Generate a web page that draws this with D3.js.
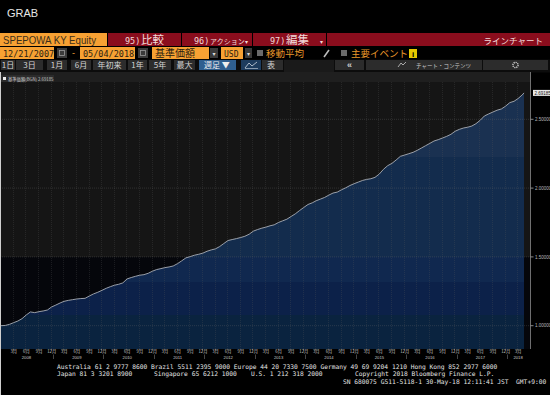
<!DOCTYPE html>
<html>
<head>
<meta charset="utf-8">
<script src="https://cdn.jsdelivr.net/npm/d3@7"></script>
<style>
  html, body { margin: 0; padding: 0; background: #000; }
  svg { display: block; }
  text { font-family: "Liberation Sans", "DejaVu Sans", sans-serif; }
  .jp { font-family: "Noto Sans CJK JP", sans-serif; }
  .mono { font-family: "DejaVu Sans Mono", monospace; }
</style>
</head>
<body>
<div id="chart"></div>
<script>
// NAV (基準価額), one value per month on the 21st
var startDate = "2007-12-21";
var endDate = "2018-05-04";
var startValue = 1.000;
var nav2008 = [1.002, 1.010, 1.022, 1.034, 1.051, 1.078, 1.100, 1.095, 1.102, 1.107, 1.114, 1.136];
var nav2009 = [1.150, 1.165, 1.177, 1.184, 1.189, 1.194, 1.197, 1.199, 1.216, 1.231, 1.243, 1.257];
var nav2010 = [1.272, 1.284, 1.294, 1.301, 1.311, 1.340, 1.350, 1.359, 1.367, 1.371, 1.381, 1.396];
var nav2011 = [1.408, 1.415, 1.422, 1.427, 1.434, 1.451, 1.471, 1.493, 1.502, 1.512, 1.519, 1.527];
var nav2012 = [1.541, 1.551, 1.558, 1.575, 1.597, 1.619, 1.626, 1.633, 1.641, 1.650, 1.665, 1.687];
var nav2013 = [1.699, 1.709, 1.716, 1.726, 1.733, 1.750, 1.762, 1.774, 1.794, 1.813, 1.837, 1.859];
var nav2014 = [1.881, 1.893, 1.908, 1.920, 1.932, 1.949, 1.964, 1.971, 1.988, 2.002, 2.019, 2.032];
var nav2015 = [2.044, 2.056, 2.063, 2.068, 2.078, 2.102, 2.136, 2.163, 2.180, 2.204, 2.231, 2.240];
var nav2016 = [2.250, 2.260, 2.274, 2.291, 2.308, 2.325, 2.342, 2.352, 2.364, 2.376, 2.391, 2.413];
var nav2017 = [2.427, 2.437, 2.442, 2.451, 2.468, 2.493, 2.524, 2.539, 2.553, 2.566, 2.575, 2.595];
var nav2018 = [2.621, 2.631, 2.650, 2.677];
var lastValue = 2.69185;

var yTicks = [1.0, 1.5, 2.0, 2.5];
var monthNames = ["3月", "6月", "9月", "12月"];
var years = [2008, 2009, 2010, 2011, 2012, 2013, 2014, 2015, 2016, 2017, 2018];

var timeButtons = ["1日", "3日", "1月", "6月", "年初来", "1年", "5年", "最大"];

var footer1 = "Australia 61 2 9777 8600 Brazil 5511 2395 9000 Europe 44 20 7330 7500 Germany 49 69 9204 1210 Hong Kong 852 2977 6000";
var footer2 = ["Japan 81 3 3201 8900", "Singapore 65 6212 1000", "U.S. 1 212 318 2000", "Copyright 2018 Bloomberg Finance L.P."];
var footer3 = "SN 680075 G511-5118-1 30-May-18 12:11:41 JST  GMT+9:00";

var width = 550, height = 395;
var parse = d3.timeParse("%Y-%m-%d");

var data = [{ date: parse(startDate), v: startValue }];
var byYear = [nav2008, nav2009, nav2010, nav2011, nav2012, nav2013, nav2014, nav2015, nav2016, nav2017, nav2018];
byYear.forEach(function (arr, i) {
  arr.forEach(function (v, m) {
    data.push({ date: new Date(years[i], m, 21), v: v });
  });
});
data.push({ date: parse(endDate), v: lastValue });

var svg = d3.select("#chart").append("svg").attr("width", width).attr("height", height);
svg.append("rect").attr("width", width).attr("height", height).attr("fill", "#000");

// ---------- header ----------
svg.append("text").attr("x", 7).attr("y", 17).attr("font-size", 11).attr("fill", "#e6e6e6").text("GRAB");

var orange = "#f7a133", red = "#8a0d1d";
// row 1
svg.append("rect").attr("x", 0).attr("y", 33).attr("width", 107).attr("height", 13).attr("fill", orange);
svg.append("text").attr("x", 3).attr("y", 43.5).attr("font-size", 10.5).attr("textLength", 93).attr("lengthAdjust", "spacingAndGlyphs")
  .attr("fill", "#3a2e1a").text("SPEPOWA KY Equity");
[[108, 73], [182, 70], [253, 73], [327, 223]].forEach(function (b) {
  svg.append("rect").attr("x", b[0]).attr("y", 33).attr("width", b[1]).attr("height", 13).attr("fill", red);
});
function hdr(x, t, size, cls) {
  svg.append("text").attr("class", cls || "jp").attr("x", x).attr("y", 43.8).attr("font-size", size)
    .attr("fill", "#f3dada").text(t);
}
hdr(125, "95)", 8.5, "mono"); hdr(141, "比較", 11.5);
hdr(194, "96)", 8.5, "mono"); hdr(210, "アクション", 7); hdr(245, "▾", 6);
hdr(270, "97)", 8.5, "mono"); hdr(286, "編集", 11.5); hdr(320, "▾", 6);
svg.append("text").attr("class", "jp").attr("x", 543).attr("y", 43.8).attr("text-anchor", "end")
  .attr("font-size", 8.5).attr("fill", "#f3dada").text("ラインチャート");

// row 2
function obox(x, w, t, cls, size) {
  svg.append("rect").attr("x", x).attr("y", 47).attr("width", w).attr("height", 12).attr("fill", orange);
  svg.append("text").attr("class", cls).attr("x", x + 3).attr("y", 56.5).attr("font-size", size).attr("fill", "#2a2010").text(t);
}
function gbox(x, w, t) {
  svg.append("rect").attr("x", x).attr("y", 48).attr("width", w).attr("height", 10).attr("fill", "#3a3a3a");
  if (t) svg.append("text").attr("x", x + w / 2).attr("y", 55.5).attr("text-anchor", "middle").attr("font-size", 6).attr("fill", "#ddd").text(t);
}
obox(0, 54, "12/21/2007", "mono", 8.5);
gbox(57, 10); svg.append("rect").attr("x", 59.5).attr("y", 50.5).attr("width", 5).attr("height", 5).attr("fill", "none").attr("stroke", "#999").attr("stroke-width", 0.8);
svg.append("text").attr("x", 72).attr("y", 56).attr("font-size", 9).attr("fill", orange).text("-");
obox(80, 55, "05/04/2018", "mono", 8.5);
gbox(138, 10); svg.append("rect").attr("x", 140.5).attr("y", 50.5).attr("width", 5).attr("height", 5).attr("fill", "none").attr("stroke", "#999").attr("stroke-width", 0.8);
obox(152, 57, "基準価額", "jp", 10);
gbox(210, 8, "▾");
obox(221, 22, "USD", "mono", 8);
gbox(245, 7, "▾");
svg.append("rect").attr("x", 257).attr("y", 50).attr("width", 6).attr("height", 6).attr("fill", "#6a6a6a");
svg.append("text").attr("class", "jp").attr("x", 266).attr("y", 56.5).attr("font-size", 9.5).attr("fill", "#e8962a").text("移動平均");
svg.append("line").attr("x1", 324).attr("y1", 57).attr("x2", 329).attr("y2", 50).attr("stroke", "#bbb").attr("stroke-width", 1.6);
svg.append("rect").attr("x", 341).attr("y", 50).attr("width", 6).attr("height", 6).attr("fill", "#6a6a6a");
svg.append("text").attr("class", "jp").attr("x", 351).attr("y", 56.5).attr("font-size", 9.5).attr("fill", "#e8962a").text("主要イベント");
svg.append("rect").attr("x", 409).attr("y", 49).attr("width", 8).attr("height", 9).attr("fill", "#e6c800");
svg.append("text").attr("x", 413).attr("y", 56.5).attr("text-anchor", "middle").attr("font-size", 8).attr("font-weight", "bold").attr("fill", "#000").text("i");

// row 3
svg.append("rect").attr("x", 0).attr("y", 59.5).attr("width", width).attr("height", 13).attr("fill", "#0c0c0c");
var btnX = [[1, 14], [16, 27], [47, 20], [71, 20], [93, 33], [128, 19], [149, 22], [174, 21]];
timeButtons.forEach(function (t, i) {
  svg.append("rect").attr("x", btnX[i][0]).attr("y", 60).attr("width", btnX[i][1]).attr("height", 10).attr("fill", "#2c2c2c");
  svg.append("text").attr("class", "jp").attr("x", btnX[i][0] + btnX[i][1] / 2).attr("y", 68.3).attr("text-anchor", "middle")
    .attr("font-size", 8).attr("fill", "#d4d4d4").text(t);
});
svg.append("rect").attr("x", 199).attr("y", 60).attr("width", 37).attr("height", 10).attr("fill", "#2f5f8f");
svg.append("text").attr("class", "jp").attr("x", 204).attr("y", 68.3).attr("font-size", 8).attr("fill", "#eee").text("週足 ▼");
svg.append("rect").attr("x", 241).attr("y", 60).attr("width", 20).attr("height", 10).attr("fill", "#1d3c5e");
svg.append("path").attr("d", "M245,68 L249,63 L252,66 L257,62").attr("fill", "none").attr("stroke", "#cfd8e2").attr("stroke-width", 0.8);
svg.append("line").attr("x1", 245).attr("y1", 68.5).attr("x2", 258).attr("y2", 68.5).attr("stroke", "#cfd8e2").attr("stroke-width", 0.6);
svg.append("rect").attr("x", 262).attr("y", 60).attr("width", 21).attr("height", 10).attr("fill", "#2c2c2c");
svg.append("text").attr("class", "jp").attr("x", 267).attr("y", 68.3).attr("font-size", 8).attr("fill", "#d4d4d4").text("表");
svg.append("rect").attr("x", 284).attr("y", 60).attr("width", 50).attr("height", 12).attr("fill", "#1a1a1a");
svg.append("rect").attr("x", 335).attr("y", 60).attr("width", 29).attr("height", 10).attr("fill", "#2c2c2c");
svg.append("text").attr("x", 349.5).attr("y", 68.3).attr("text-anchor", "middle").attr("font-size", 9).attr("font-weight", "bold").attr("fill", "#ccc").text("«");
svg.append("rect").attr("x", 366).attr("y", 60).attr("width", 116).attr("height", 10).attr("fill", "#2c2c2c");
svg.append("path").attr("d", "M398,67 L401,63 L403,65 L406,62").attr("fill", "none").attr("stroke", "#ccc").attr("stroke-width", 0.8);
svg.append("text").attr("class", "jp").attr("x", 416).attr("y", 67.8).attr("font-size", 5.5).attr("fill", "#c8c8c8").text("チャート・コンテンツ");
svg.append("rect").attr("x", 483).attr("y", 60).attr("width", 65).attr("height", 10).attr("fill", "#2c2c2c");
svg.append("circle").attr("cx", 515.5).attr("cy", 65).attr("r", 2.6).attr("fill", "none").attr("stroke", "#ccc").attr("stroke-width", 1.4).attr("stroke-dasharray", "1.2,0.8");

// ---------- chart ----------
var plotL = 0, plotR = 530.5, plotT = 82, plotB = 349;
var x = d3.scaleTime().domain([parse(startDate), parse(endDate)]).range([1, 524]);
var y = d3.scaleLinear().domain([1, 2.5]).range([325.7, 119.3]);

svg.append("rect").attr("x", 0).attr("y", 72).attr("width", plotR).attr("height", plotT - 72).attr("fill", "#1f1f1f");
svg.append("rect").attr("x", plotL).attr("y", plotT).attr("width", plotR - plotL).attr("height", 257 - plotT).attr("fill", "#151515");
svg.append("rect").attr("x", plotL).attr("y", 257).attr("width", plotR - plotL).attr("height", plotB - 257).attr("fill", "#05060b");

var defs = svg.append("defs");
var grad = defs.append("linearGradient").attr("id", "navFill").attr("gradientUnits", "userSpaceOnUse")
  .attr("x1", 0).attr("x2", 0).attr("y1", plotT).attr("y2", plotB);
var bands = [[0, "#1a3151"], [157, "#132c4d"], [257, "#10284f"], [282, "#0c2149"], [315, "#0a233f"]];
bands.forEach(function (b, i) {
  var y0 = Math.max(b[0], plotT);
  var y1 = i < bands.length - 1 ? bands[i + 1][0] : plotB;
  grad.append("stop").attr("offset", (y0 - plotT) / (plotB - plotT)).attr("stop-color", b[1]);
  grad.append("stop").attr("offset", (y1 - plotT) / (plotB - plotT)).attr("stop-color", b[1]);
});

var area = d3.area().x(function (d) { return x(d.date); }).y0(plotB).y1(function (d) { return y(d.v); });
svg.append("path").datum(data).attr("d", area).attr("fill", "url(#navFill)");

// grid
var qTicks = d3.timeMonths(new Date(2008, 2, 1), parse(endDate), 3).map(function (d) { return new Date(d.getFullYear(), d.getMonth(), 15); });
svg.append("g").selectAll("line").data(qTicks).enter().append("line")
  .attr("x1", function (d) { return Math.round(x(d)) + 0.5; }).attr("x2", function (d) { return Math.round(x(d)) + 0.5; })
  .attr("y1", plotT).attr("y2", plotB)
  .attr("stroke", "#5a5a5a").attr("stroke-opacity", 0.45).attr("stroke-width", 0.6).attr("stroke-dasharray", "1,1");
svg.append("g").selectAll("line").data(yTicks).enter().append("line")
  .attr("x1", plotL).attr("x2", plotR)
  .attr("y1", function (d) { return y(d); }).attr("y2", function (d) { return y(d); })
  .attr("stroke", "#6a6a6a").attr("stroke-opacity", 0.55).attr("stroke-width", 0.6).attr("stroke-dasharray", "1,1");

var line = d3.line().x(function (d) { return x(d.date); }).y(function (d) { return y(d.v); });
svg.append("path").datum(data).attr("d", line).attr("fill", "none").attr("stroke", "#a9aeb6").attr("stroke-width", 0.9);

// legend
svg.append("rect").attr("x", 1).attr("y", 75).attr("width", 53).attr("height", 7).attr("fill", "#2b2b2b");
svg.append("rect").attr("x", 3).attr("y", 77).attr("width", 3).attr("height", 3).attr("fill", "#eee");
svg.append("text").attr("class", "jp").attr("x", 8).attr("y", 80.6).attr("font-size", 4.3).attr("fill", "#ccc")
  .text("基準価額(BGN) " + d3.format(".5f")(lastValue));

// right axis
svg.append("line").attr("x1", plotR).attr("x2", plotR).attr("y1", 72).attr("y2", plotB).attr("stroke", "#8a8a8a").attr("stroke-width", 0.8);
var yAxis = svg.append("g");
yTicks.forEach(function (t) {
  yAxis.append("line").attr("x1", plotR).attr("x2", plotR + 3).attr("y1", y(t)).attr("y2", y(t)).attr("stroke", "#aaa").attr("stroke-width", 0.8);
  yAxis.append("text").attr("x", plotR + 4.5).attr("y", y(t) + 1.6).attr("font-size", 4.5).attr("fill", "#b8b8b8").text(d3.format(".5f")(t));
});
svg.append("rect").attr("x", plotR + 2.5).attr("y", y(lastValue) - 3).attr("width", 17).attr("height", 6).attr("fill", "#e8e8e8");
svg.append("text").attr("x", plotR + 4).attr("y", y(lastValue) + 1.6).attr("font-size", 4.5).attr("fill", "#111").text(d3.format(".5f")(lastValue));

// x axis labels
var xAxis = svg.append("g");
qTicks.forEach(function (d) {
  xAxis.append("line").attr("x1", Math.round(x(d)) + 0.5).attr("x2", Math.round(x(d)) + 0.5).attr("y1", plotB).attr("y2", plotB + 1.5)
    .attr("stroke", "#999").attr("stroke-width", 0.5);
  xAxis.append("text").attr("class", "jp").attr("x", x(d) + 1).attr("y", 352.8).attr("text-anchor", "middle")
    .attr("font-size", 4.3).attr("fill", "#c8c8c8").text(monthNames[Math.floor(d.getMonth() / 3)]);
});
years.forEach(function (yr) {
  var pos = yr < 2018 ? x(new Date(yr, 5, 15)) : x(new Date(yr, 2, 15));
  xAxis.append("text").attr("x", pos + 1).attr("y", 358.5).attr("text-anchor", "middle")
    .attr("font-size", 4.2).attr("fill", "#c8c8c8").text(yr);
  if (yr > 2008) {
    var bx = Math.round(x(new Date(yr, 0, 1))) + 0.5;
    xAxis.append("line").attr("x1", bx).attr("x2", bx).attr("y1", 354.5).attr("y2", 359).attr("stroke", "#888").attr("stroke-width", 0.5);
  }
});

// left border
svg.append("line").attr("x1", 0.5).attr("x2", 0.5).attr("y1", 72).attr("y2", height).attr("stroke", "#cfcfcf").attr("stroke-width", 1);

// ---------- footer ----------
function foot(xp, yp, t) {
  svg.append("text").attr("class", "mono").attr("x", xp).attr("y", yp).attr("font-size", 6.25).attr("fill", "#e4e4e4")
    .attr("xml:space", "preserve").text(t);
}
foot(57, 368.5, footer1);
foot(57, 376, footer2[0]);
foot(154, 376, footer2[1]);
foot(251, 376, footer2[2]);
foot(355, 376, footer2[3]);
foot(343, 383.5, footer3);
</script>
</body>
</html>
